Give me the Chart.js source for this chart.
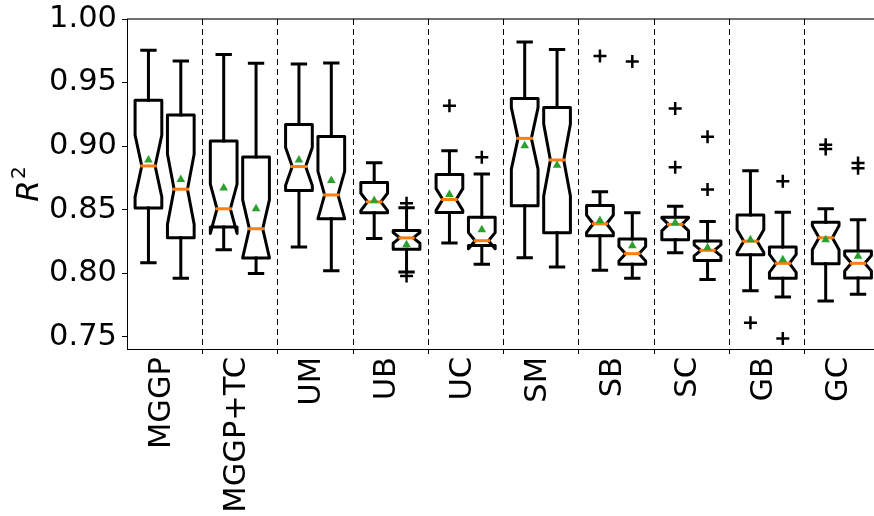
<!DOCTYPE html>
<html>
<head>
<meta charset="utf-8">
<script src="https://cdn.jsdelivr.net/npm/chart.js@4.4.1/dist/chart.umd.min.js"></script>
<style>
  html, body { margin: 0; padding: 0; background: #fff; }
  #wrap { width: 874px; height: 516px; position: relative; }
</style>
</head>
<body>
<div id="wrap"><canvas id="c"></canvas></div>
<script>
// Methods compared; each has two runs drawn side by side (A left, B right).
const categories = ['MGGP', 'MGGP+TC', 'UM', 'UB', 'UC', 'SM', 'SB', 'SC', 'GB', 'GC'];
const yTicks = [0.75, 0.80, 0.85, 0.90, 0.95, 1.00];

// Left box of each pair
const whiskerLoA = [0.8083, 0.8185, 0.8206, 0.8274, 0.8237, 0.8122, 0.8023, 0.8161, 0.7862, 0.7782];
const q1A        = [0.8514, 0.8363, 0.8650, 0.8475, 0.8478, 0.8530, 0.8295, 0.8263, 0.8146, 0.8075];
const medianA    = [0.8844, 0.8507, 0.8839, 0.8561, 0.8580, 0.9061, 0.8389, 0.8384, 0.8252, 0.8279];
const q3A        = [0.9361, 0.9040, 0.9171, 0.8713, 0.8776, 0.9375, 0.8533, 0.8441, 0.8458, 0.8402];
const whiskerHiA = [0.9754, 0.9720, 0.9646, 0.8870, 0.8964, 0.9819, 0.8642, 0.8527, 0.8807, 0.8507];
const meanA      = [0.8890, 0.8671, 0.8891, 0.8572, 0.8619, 0.9003, 0.8415, 0.8397, 0.8263, 0.8263];
const outliersA  = [[], [], [], [], [0.9317], [], [0.9709], [0.9296, 0.8833], [0.7610], [0.9011, 0.8977]];

// Right box of each pair
const whiskerLoB = [0.7960, 0.7997, 0.8020, 0.8010, 0.8070, 0.8049, 0.7960, 0.7950, 0.7814, 0.7835];
const q1B        = [0.8279, 0.8120, 0.8428, 0.8189, 0.8219, 0.8318, 0.8070, 0.8101, 0.7960, 0.7963];
const medianB    = [0.8661, 0.8350, 0.8616, 0.8278, 0.8256, 0.8891, 0.8154, 0.8180, 0.8078, 0.8078];
const q3B        = [0.9244, 0.8914, 0.9076, 0.8336, 0.8441, 0.9304, 0.8269, 0.8253, 0.8206, 0.8175];
const whiskerHiB = [0.9670, 0.9652, 0.9654, 0.8516, 0.8781, 0.9761, 0.8475, 0.8407, 0.8480, 0.8420];
const meanB      = [0.8737, 0.8507, 0.8729, 0.8225, 0.8342, 0.8849, 0.8216, 0.8201, 0.8107, 0.8133];
const outliersB  = [[], [], [], [0.8551, 0.7978], [0.8912], [], [0.9665], [0.9074, 0.8658], [0.8724, 0.7487], [0.8867, 0.8825]];

// Runs per box: notch half-height = 1.57 * IQR / sqrt(runs)
const runs = 30;

const PAIR_OFFSET = 0.215;   // distance of each box from its group centre (x units)
const BOX_WIDTH = 0.355;     // box width (x units)
const ORANGE = '#ff7f0e';
const GREEN = '#2ca02c';
const FONT = 'DejaVu Sans';
const TICK_FONT_SIZE = 30.5;

Chart.defaults.font.family = FONT;
Chart.defaults.color = '#000';

function boxStats(i, side) {
  return side === 0
    ? { lo: whiskerLoA[i], q1: q1A[i], med: medianA[i], q3: q3A[i], hi: whiskerHiA[i] }
    : { lo: whiskerLoB[i], q1: q1B[i], med: medianB[i], q3: q3B[i], hi: whiskerHiB[i] };
}

const meanPoints = [];
const outlierPoints = [];
categories.forEach((_, i) => {
  meanPoints.push({ x: i - PAIR_OFFSET, y: meanA[i] }, { x: i + PAIR_OFFSET, y: meanB[i] });
  outliersA[i].forEach(v => outlierPoints.push({ x: i - PAIR_OFFSET, y: v }));
  outliersB[i].forEach(v => outlierPoints.push({ x: i + PAIR_OFFSET, y: v }));
});

// Notched boxes, whiskers, group separators, top frame line and the R² axis title
const boxPlotPlugin = {
  id: 'notchedBoxes',
  beforeDatasetsDraw(chart) {
    const { ctx, chartArea: area, scales: { x, y } } = chart;
    ctx.save();

    // top frame line
    ctx.strokeStyle = 'rgba(0,0,0,0.75)';
    ctx.lineWidth = 1.3;
    ctx.beginPath();
    ctx.moveTo(area.left, area.top);
    ctx.lineTo(area.right, area.top);
    ctx.stroke();

    // dashed separators between groups, with tick marks under the axis
    for (let i = 0; i < categories.length - 1; i++) {
      const px = Math.round(x.getPixelForValue(i + 0.5)) + 0.5;
      ctx.strokeStyle = '#000';
      ctx.lineWidth = 1;
      ctx.setLineDash([6, 4]);
      ctx.beginPath();
      ctx.moveTo(px, area.top);
      ctx.lineTo(px, area.bottom);
      ctx.stroke();
      ctx.setLineDash([]);
      ctx.beginPath();
      ctx.moveTo(px, area.bottom);
      ctx.lineTo(px, area.bottom + 5);
      ctx.stroke();
    }

    ctx.lineWidth = 3;
    ctx.lineJoin = 'round';
    ctx.lineCap = 'square';
    categories.forEach((_, i) => {
      [0, 1].forEach(side => {
        const s = boxStats(i, side);
        const pos = i + (side === 0 ? -PAIR_OFFSET : PAIR_OFFSET);
        const cx = x.getPixelForValue(pos);
        const half = x.getPixelForValue(pos + BOX_WIDTH / 2) - cx;
        const L = cx - half, R = cx + half, mL = cx - half / 2, mR = cx + half / 2;
        const notch = 1.57 * (s.q3 - s.q1) / Math.sqrt(runs);
        const pQ1 = y.getPixelForValue(s.q1), pQ3 = y.getPixelForValue(s.q3);
        const pMed = y.getPixelForValue(s.med);
        const pNLo = y.getPixelForValue(s.med - notch), pNHi = y.getPixelForValue(s.med + notch);
        const pLo = y.getPixelForValue(s.lo), pHi = y.getPixelForValue(s.hi);

        ctx.strokeStyle = '#000';
        // notched box outline
        ctx.beginPath();
        ctx.moveTo(L, pQ1);
        ctx.lineTo(L, pNLo);
        ctx.lineTo(mL, pMed);
        ctx.lineTo(L, pNHi);
        ctx.lineTo(L, pQ3);
        ctx.lineTo(R, pQ3);
        ctx.lineTo(R, pNHi);
        ctx.lineTo(mR, pMed);
        ctx.lineTo(R, pNLo);
        ctx.lineTo(R, pQ1);
        ctx.closePath();
        ctx.stroke();

        // median
        ctx.strokeStyle = ORANGE;
        ctx.beginPath();
        ctx.moveTo(mL, pMed);
        ctx.lineTo(mR, pMed);
        ctx.stroke();

        // whiskers and caps
        ctx.strokeStyle = '#000';
        ctx.beginPath();
        ctx.moveTo(cx, pQ1);
        ctx.lineTo(cx, pLo);
        ctx.moveTo(cx, pQ3);
        ctx.lineTo(cx, pHi);
        ctx.moveTo(mL, pLo);
        ctx.lineTo(mR, pLo);
        ctx.moveTo(mL, pHi);
        ctx.lineTo(mR, pHi);
        ctx.stroke();
      });
    });
    ctx.restore();
  },
  afterDraw(chart) {
    // y axis title: italic R with an upright superscript 2, read bottom to top
    const { ctx, chartArea: area } = chart;
    ctx.save();
    ctx.fillStyle = '#000';
    ctx.textBaseline = 'alphabetic';
    ctx.textAlign = 'left';
    ctx.font = 'italic 31px "' + FONT + '"';
    const rWidth = ctx.measureText('R').width;
    ctx.font = '20px "' + FONT + '"';
    const supWidth = ctx.measureText('2').width;
    const total = rWidth + 1 + supWidth;
    const midY = (area.top + area.bottom) / 2;
    ctx.translate(38, midY + total / 2);
    ctx.rotate(-Math.PI / 2);
    ctx.font = 'italic 31px "' + FONT + '"';
    ctx.fillText('R', 0, 0);
    ctx.font = '20px "' + FONT + '"';
    ctx.fillText('2', rWidth + 1, -13);
    ctx.restore();
  }
};

new Chart(document.getElementById('c'), {
  type: 'scatter',
  data: {
    datasets: [
      {
        label: 'mean',
        data: meanPoints,
        pointStyle: 'triangle',
        pointRadius: 5,
        pointHoverRadius: 5,
        backgroundColor: GREEN,
        borderWidth: 0
      },
      {
        label: 'outliers',
        data: outlierPoints,
        pointStyle: 'cross',
        pointRadius: 6.5,
        pointHoverRadius: 6.5,
        borderColor: '#000',
        backgroundColor: 'rgba(0,0,0,0)',
        borderWidth: 2.5
      }
    ]
  },
  options: {
    responsive: true,
    maintainAspectRatio: false,
    animation: false,
    events: [],
    layout: { autoPadding: false, padding: { top: 19, left: 0, right: 0, bottom: 0 } },
    plugins: { legend: { display: false }, tooltip: { enabled: false } },
    scales: {
      x: {
        type: 'linear',
        min: -0.5,
        max: 9.427,
        afterBuildTicks: s => { s.ticks = categories.map((_, i) => ({ value: i })); },
        afterFit: s => {
          s.height = 167;
          s.paddingLeft = 0;
          s.paddingRight = 0;
        },
        ticks: {
          autoSkip: false,
          minRotation: 90,
          maxRotation: 90,
          padding: 3,
          labelOffset: -3,
          color: '#000',
          font: { family: FONT, size: TICK_FONT_SIZE },
          callback: v => categories[Math.round(v)]
        },
        grid: { display: true, drawOnChartArea: false, drawTicks: true, tickLength: 5, color: 'rgba(0,0,0,0)' },
        border: { display: true, color: '#000', width: 1 }
      },
      y: {
        min: 0.7404,
        max: 1.0,
        afterBuildTicks: s => { s.ticks = yTicks.map(v => ({ value: v })); },
        afterFit: s => {
          s.width = 127;
          s.paddingTop = 0;
          s.paddingBottom = 0;
        },
        ticks: {
          padding: 5,
          color: '#000',
          font: { family: FONT, size: TICK_FONT_SIZE },
          callback: v => v.toFixed(2)
        },
        grid: { display: true, drawOnChartArea: false, drawTicks: true, tickLength: 5, color: '#000', lineWidth: 1 },
        border: { display: true, color: '#000', width: 1 }
      }
    }
  },
  plugins: [boxPlotPlugin]
});
</script>
</body>
</html>
